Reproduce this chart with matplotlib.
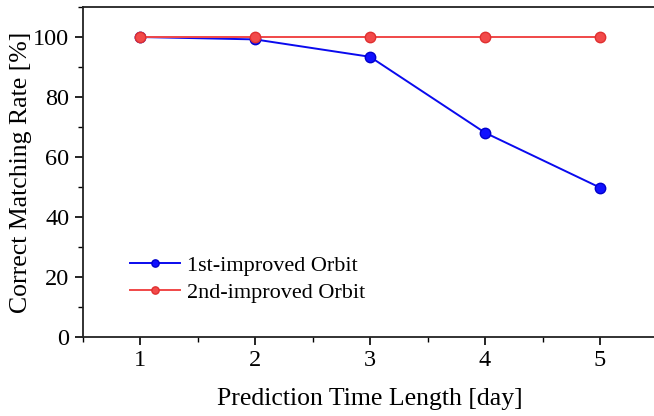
import matplotlib.pyplot as plt
from matplotlib.ticker import MultipleLocator

days = [1, 2, 3, 4, 5]
first_improved = [100, 99.2, 93.4, 68.1, 49.8]
second_improved = [100, 100, 100, 100, 100]

plt.rcParams["font.family"] = ["Liberation Serif", "DejaVu Serif"]

fig = plt.figure(figsize=(6.54, 4.16), dpi=100)
ax = fig.add_axes([82.5 / 654, 79 / 416, 575 / 654, 330 / 416])

ax.plot(days, first_improved, color="#0a0aee", lw=1.4, marker="o", ms=7.5,
        mfc="#1010ff", mec="#0000cc", label="1st-improved Orbit")
ax.plot(days, second_improved, color="#f04848", lw=1.4, marker="o", ms=7.5,
        mfc="#f24a4a", mec="#e03030", label="2nd-improved Orbit")

ax.set_xlim(0.5, 5.5)
ax.set_ylim(0, 110)
ax.set_xticks(days)
ax.xaxis.set_minor_locator(MultipleLocator(0.5))
ax.yaxis.set_major_locator(MultipleLocator(20))
ax.yaxis.set_minor_locator(MultipleLocator(10))
ax.tick_params(which="major", direction="out", length=6, width=1.2, labelsize=17.5)
ax.tick_params(which="minor", direction="out", length=3.5, width=1.0)
ax.tick_params(top=False, right=False)
for s in ax.spines.values():
    s.set_linewidth(1.3)
    s.set_color("#222222")
ax.spines["right"].set_visible(False)

ax.set_xlabel("Prediction Time Length [day]", fontsize=18.5, labelpad=12)
ax.set_ylabel("Correct Matching Rate [%]", fontsize=18.5, labelpad=1)

ax.legend(loc="lower left", bbox_to_anchor=(0.048, 0.042), frameon=False,
          fontsize=16, markerscale=0.7, handlelength=2.25, handletextpad=0.32,
          labelspacing=0.3)

fig.savefig("out.png", dpi=100)
